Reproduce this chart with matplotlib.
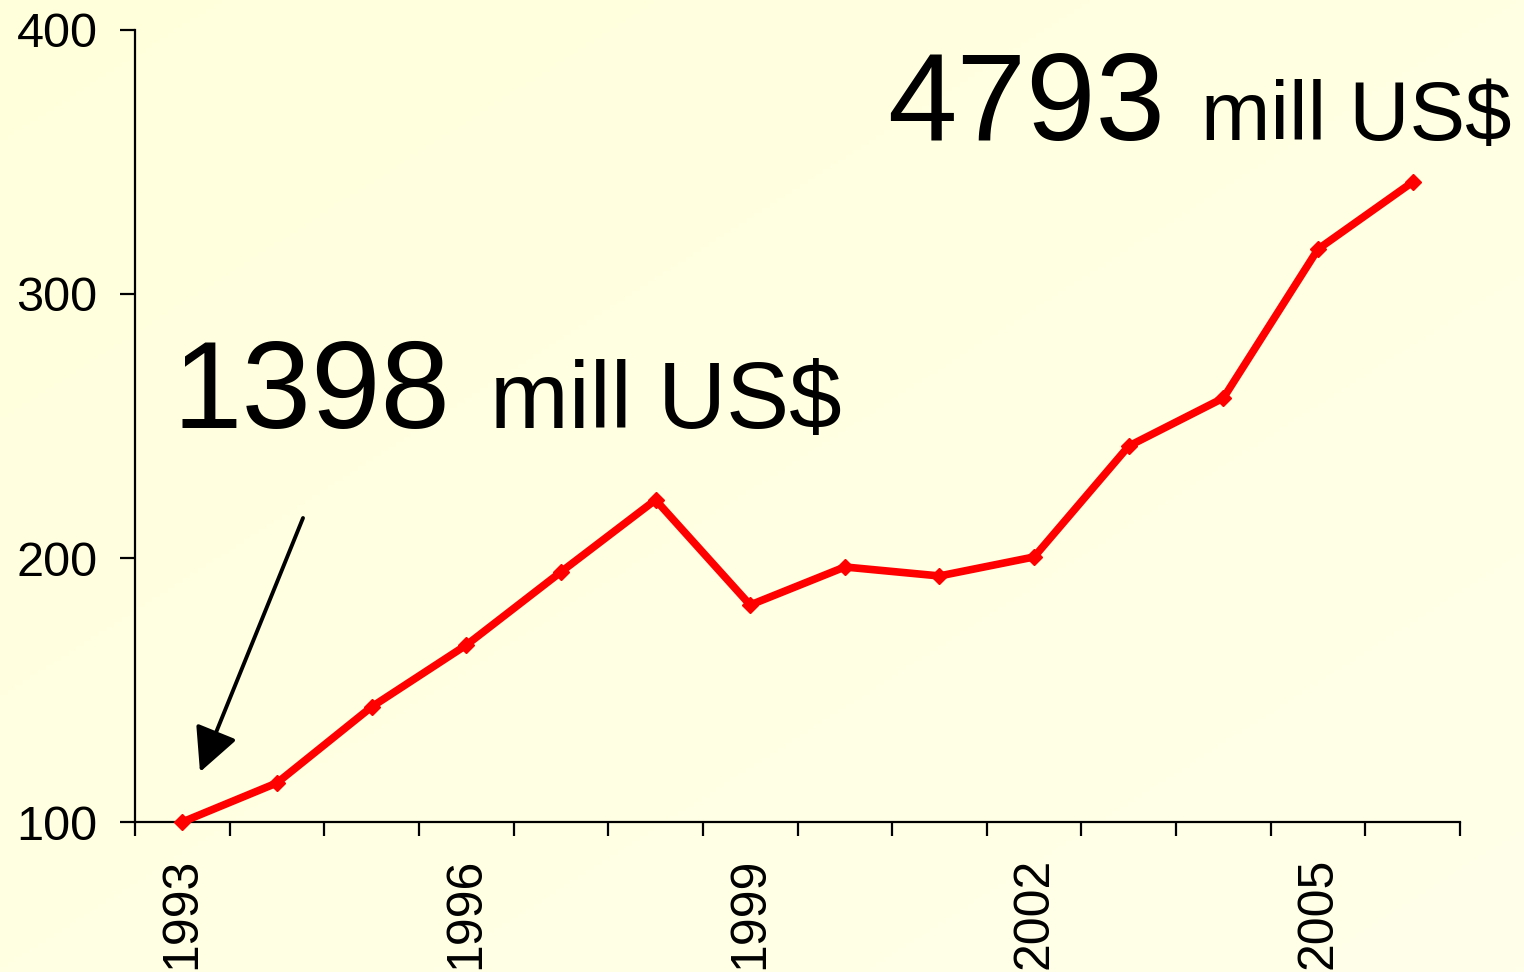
import numpy as np
import matplotlib
matplotlib.use("Agg")
import matplotlib.pyplot as plt

# data (index, 1993 = 100)
years = [1993, 1994, 1995, 1996, 1997, 1998, 1999, 2000, 2001, 2002, 2003, 2004, 2005, 2006]
index_values = [100, 114.8, 143.6, 167, 194.7, 222, 182.2, 196.6, 193.2, 200.4, 242.4, 260.6, 317, 342.4]
label_years = [1993, 1996, 1999, 2002, 2005]
y_ticks = [100, 200, 300, 400]

start_big, start_small = "1398", "mill US$"
end_big, end_small = "4793", "mill US$"

plt.rcParams["font.family"] = ["Liberation Sans", "DejaVu Sans"]

fig = plt.figure(figsize=(15.24, 9.72), dpi=100)

# light yellow gradient background
bg = fig.add_axes([0, 0, 1, 1], zorder=-10)
gx, gy = np.meshgrid(np.linspace(0, 1, 200), np.linspace(0, 1, 200))
grad = (gx + gy) / 2
c0 = np.array([255, 255, 220]) / 255
c1 = np.array([255, 255, 234]) / 255
img = c0[None, None, :] * (1 - grad[..., None]) + c1[None, None, :] * grad[..., None]
bg.imshow(img, aspect="auto", extent=[0, 1, 0, 1], origin="upper")
bg.axis("off")

ax = fig.add_axes([135 / 1524, 1 - 822 / 972, (1460 - 135) / 1524, (822 - 30) / 972])
ax.patch.set_alpha(0)

x = np.arange(len(years))
ax.plot(x, index_values, color="#ff0000", lw=5.5, marker="D", markersize=8,
        markeredgecolor="#ff0000", markerfacecolor="#ff0000", zorder=3, clip_on=False)

ax.set_xlim(-0.5, len(years) - 0.5)
ax.set_ylim(100, 400)

ax.spines["top"].set_visible(False)
ax.spines["right"].set_visible(False)
for s in ["left", "bottom"]:
    ax.spines[s].set_linewidth(1.6)

ax.set_yticks(y_ticks)
ax.tick_params(axis="y", length=11, width=1.6, labelsize=35, pad=16, direction="out")

# major ticks at category boundaries, labels on minor ticks
ax.set_xticks(np.arange(-0.5, len(years), 1.0))
ax.set_xticklabels([])
ax.tick_params(axis="x", which="major", length=10, width=1.6, direction="out")
ax.set_xticks([years.index(y) for y in label_years], minor=True)
ax.set_xticklabels([str(y) for y in label_years], minor=True, rotation=90)
ax.tick_params(axis="x", which="minor", length=0, labelsize=36, pad=26)

# big annotations
t1 = fig.text(172 / 1524, 1 - 428 / 972, start_big, fontsize=90, va="baseline", ha="left")
fig.canvas.draw()
bb = t1.get_window_extent()
fig.text((bb.x1 + 40) / 1524, 1 - 428 / 972, start_small, fontsize=68, va="baseline", ha="left")

t2 = fig.text(887 / 1524, 1 - 140 / 972, end_big, fontsize=90, va="baseline", ha="left")
fig.canvas.draw()
bb = t2.get_window_extent()
fig.text((bb.x1 + 36) / 1524, 1 - 140 / 972, end_small, fontsize=60, va="baseline", ha="left")

# arrow pointing to 1993
fig.add_artist(matplotlib.patches.FancyArrowPatch(
    (303 / 1524, 1 - 518 / 972), (200 / 1524, 1 - 772 / 972),
    transform=fig.transFigure, arrowstyle="-|>,head_length=18,head_width=9",
    color="black", lw=2.8, mutation_scale=1.5, shrinkA=0, shrinkB=0))

fig.savefig("out.png", dpi=100)
